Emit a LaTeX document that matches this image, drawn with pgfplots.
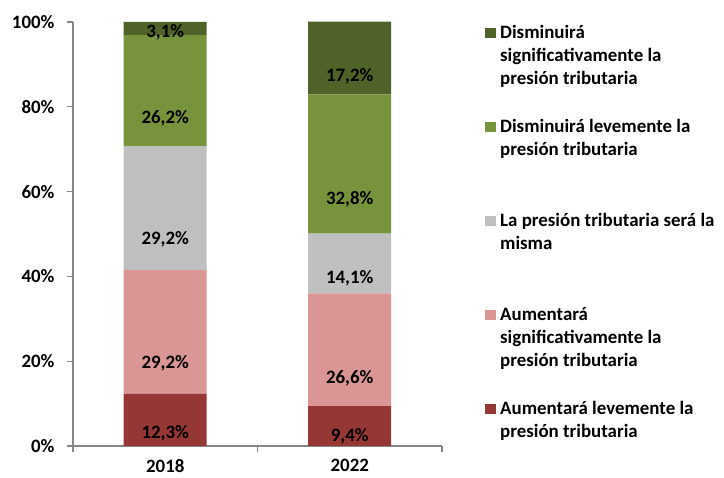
\documentclass[border=0pt]{standalone}
\usepackage{fontspec}
\setmainfont{Carlito}
\usepackage{pgfplots}
\pgfplotsset{compat=1.18}
\definecolor{cDR}{HTML}{953735}
\definecolor{cPK}{HTML}{D99694}
\definecolor{cGR}{HTML}{BFBFBF}
\definecolor{cLG}{HTML}{77933C}
\definecolor{cDG}{HTML}{4F6228}
\definecolor{axgray}{HTML}{868686}
\newcommand{\lbl}{\bfseries\fontsize{18.9}{23}\selectfont}
\newcommand{\lent}[1]{\rule{0pt}{14pt}\smash{\parbox[t]{230pt}{\raggedright #1}}}
\begin{document}
\begin{tikzpicture}
\path[use as bounding box] (0,0) rectangle (724pt,478pt);
\begin{axis}[
  at={(73pt,32pt)}, anchor=south west,
  scale only axis, width=369pt, height=424pt,
  ybar stacked, bar width=83pt,
  xmin=-0.5, xmax=1.5, ymin=0, ymax=100,
  clip=false,
  axis x line*=bottom, axis y line*=left,
  axis line style={axgray, line width=1.3pt},
  tick style={axgray, line width=1.3pt},
  tick align=outside, major tick length=6pt,
  xtick={-0.5,0.5,1.5}, xticklabels={},
  extra x ticks={0,1}, extra x tick labels={2018,2022},
  extra x tick style={major tick length=0pt, tick style={draw=none}, xticklabel style={yshift=-10pt}},
  ytick={0,20,40,60,80,100},
  yticklabels={0\%,20\%,40\%,60\%,80\%,100\%},
  ticklabel style={font=\lbl, black},
  yticklabel style={xshift=-9pt},
  visualization depends on=rawy \as \rawy,
  nodes near coords={\pgfmathprintnumber[fixed,fixed zerofill,precision=1,use comma,assume math mode=true]{\rawy}\%},
  every node near coord/.append style={font=\lbl, black, anchor=center, yshift={-1.06pt*\rawy}},
  reverse legend,
  legend style={at={(1.1165,0.995)}, anchor=north west, draw=none, fill=none, inner sep=0pt,
    row sep=78.5pt, column sep=4.5pt, cells={anchor=base west}, font=\lbl, nodes={inner sep=0pt}},
  legend image code/.code={\fill[#1] (0pt,0pt) rectangle (10.5pt,10.5pt);},
]
\addplot[fill=cDR, draw=none] coordinates {(0,12.3) (1,9.4)};
\addlegendentry{\lent{Aumentará levemente la\\presión tributaria}}
\addplot[fill=cPK, draw=none] coordinates {(0,29.2) (1,26.6)};
\addlegendentry{\lent{Aumentará\\significativamente la\\presión tributaria}}
\addplot[fill=cGR, draw=none] coordinates {(0,29.2) (1,14.1)};
\addlegendentry{\lent{La presión tributaria será la\\misma}}
\addplot[fill=cLG, draw=none] coordinates {(0,26.2) (1,32.8)};
\addlegendentry{\lent{Disminuirá levemente la\\presión tributaria}}
\addplot[fill=cDG, draw=none] coordinates {(0,3.1) (1,17.2)};
\addlegendentry{\lent{Disminuirá\\significativamente la\\presión tributaria}}
\end{axis}
\end{tikzpicture}
\end{document}
